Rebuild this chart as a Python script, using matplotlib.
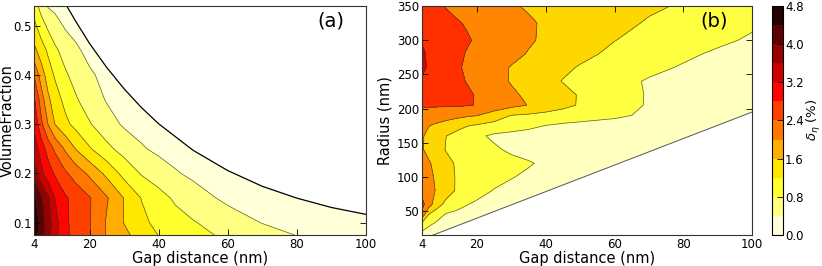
import numpy as np
import matplotlib.pyplot as plt

# panel (a): gap distance vs volume fraction
gap_a = [4, 6, 8, 10, 13, 16, 20, 25, 30, 35, 40, 45, 50, 60, 70, 80, 90, 100]
vf_a = [0.075, 0.1, 0.15, 0.2, 0.25, 0.3, 0.35, 0.4, 0.45, 0.5, 0.54]
delta_a = [
    [4.6, 4.19, 3.77, 3.36, 2.9, 2.66, 2.42, 1.97, 1.69, 1.44, 1.19, 1.07, 0.93, 0.72, 0.55, 0.39, 0.3, 0.24],
    [4.7, 4.24, 3.78, 3.36, 2.87, 2.66, 2.43, 1.96, 1.59, 1.29, 1.1, 0.96, 0.83, 0.59, 0.39, 0.3, 0.24, 0.19],
    [4.5, 4.06, 3.66, 3.19, 2.85, 2.66, 2.43, 2.04, 1.59, 1.19, 0.95, 0.73, 0.56, 0.32, 0.25, 0.2, 0.16, 0.13],
    [3.8, 3.31, 2.99, 2.74, 2.46, 2.23, 1.92, 1.5, 1.07, 0.77, 0.59, 0.43, 0.33, 0.25, 0.2, 0.16, 0.13, 0.1],
    [3.4, 3.02, 2.64, 2.33, 1.94, 1.59, 1.24, 0.9, 0.65, 0.44, 0.32, 0.26, 0.22, 0.18, 0.15, 0.12, 0.1, 0.08],
    [3.1, 2.49, 1.99, 1.59, 1.3, 1.08, 0.83, 0.56, 0.35, 0.27, 0.22, 0.19, 0.16, 0.13, 0.11, 0.09, 0.08, 0.07],
    [2.85, 2.2, 1.68, 1.39, 1.08, 0.84, 0.61, 0.37, 0.28, 0.22, 0.18, 0.15, 0.13, 0.1, 0.08, 0.07, 0.06, 0.05],
    [2.35, 1.8, 1.41, 1.15, 0.85, 0.67, 0.45, 0.3, 0.22, 0.18, 0.15, 0.13, 0.11, 0.09, 0.07, 0.06, 0.05, 0.04],
    [1.7, 1.4, 1.13, 0.87, 0.65, 0.46, 0.3, 0.22, 0.18, 0.15, 0.13, 0.11, 0.1, 0.08, 0.06, 0.05, 0.04, 0.04],
    [1.3, 0.97, 0.72, 0.56, 0.35, 0.28, 0.22, 0.18, 0.15, 0.13, 0.11, 0.1, 0.09, 0.07, 0.05, 0.04, 0.04, 0.03],
    [1.0, 0.64, 0.37, 0.3, 0.25, 0.22, 0.18, 0.15, 0.13, 0.11, 0.1, 0.09, 0.08, 0.06, 0.05, 0.04, 0.03, 0.03],
]
# upper limit of reachable volume fraction
limit_gap_a = [13.4, 16, 20, 25, 30, 35, 40, 50, 60, 70, 80, 90, 100]
limit_vf_a = [0.540, 0.509, 0.464, 0.415, 0.372, 0.334, 0.301, 0.247, 0.206, 0.174, 0.150, 0.131, 0.117]

# panel (b): gap distance vs radius
gap_b = [4, 6, 8, 11, 14, 17, 20, 25, 30, 35, 40, 45, 50, 60, 70, 80, 90, 100]
radius_b = [15, 30, 45, 60, 80, 100, 120, 140, 160, 175, 190, 205, 220, 240, 260, 280, 300, 325, 350]
delta_b = [
    [0.4, 0.3, 0.25, 0.2, 0.18, 0.15, 0.12, 0.1, 0.1, 0.1, 0.1, 0.1, 0.1, 0.1, 0.1, 0.1, 0.1, 0.1],
    [1.0, 0.67, 0.5, 0.4, 0.35, 0.3, 0.25, 0.2, 0.15, 0.1, 0.1, 0.1, 0.1, 0.1, 0.1, 0.1, 0.1, 0.1],
    [2.25, 1.2, 0.93, 0.55, 0.45, 0.4, 0.35, 0.3, 0.25, 0.2, 0.15, 0.1, 0.1, 0.1, 0.1, 0.1, 0.1, 0.1],
    [2.6, 2.09, 1.52, 1.06, 0.84, 0.63, 0.5, 0.4, 0.3, 0.25, 0.2, 0.15, 0.12, 0.1, 0.1, 0.1, 0.1, 0.1],
    [2.2, 1.99, 1.79, 1.45, 1.16, 0.99, 0.83, 0.57, 0.45, 0.35, 0.3, 0.25, 0.2, 0.15, 0.1, 0.1, 0.1, 0.1],
    [2.1, 1.93, 1.75, 1.43, 1.17, 1.07, 0.97, 0.8, 0.63, 0.5, 0.4, 0.33, 0.28, 0.2, 0.15, 0.1, 0.1, 0.1],
    [2.0, 1.86, 1.67, 1.33, 1.16, 1.08, 1.01, 0.89, 0.77, 0.65, 0.5, 0.4, 0.35, 0.28, 0.2, 0.15, 0.1, 0.1],
    [1.85, 1.66, 1.45, 1.18, 1.08, 0.97, 0.86, 0.69, 0.5, 0.4, 0.35, 0.3, 0.27, 0.22, 0.15, 0.1, 0.1, 0.1],
    [1.85, 1.69, 1.5, 1.21, 1.04, 0.88, 0.71, 0.5, 0.42, 0.38, 0.35, 0.33, 0.3, 0.25, 0.2, 0.15, 0.1, 0.1],
    [1.95, 1.82, 1.71, 1.55, 1.39, 1.23, 1.14, 1.0, 0.87, 0.73, 0.59, 0.5, 0.44, 0.38, 0.33, 0.28, 0.22, 0.18],
    [2.25, 2.2, 2.14, 2.06, 1.98, 1.89, 1.82, 1.52, 1.19, 1.12, 1.03, 0.95, 0.87, 0.7, 0.5, 0.4, 0.33, 0.25],
    [2.45, 2.46, 2.46, 2.46, 2.46, 2.44, 2.38, 2.18, 1.98, 1.78, 1.56, 1.35, 1.15, 0.85, 0.55, 0.42, 0.35, 0.28],
    [2.75, 2.68, 2.62, 2.55, 2.5, 2.45, 2.38, 2.14, 1.9, 1.69, 1.51, 1.34, 1.16, 0.88, 0.55, 0.45, 0.38, 0.3],
    [2.9, 2.75, 2.65, 2.55, 2.47, 2.39, 2.24, 2.0, 1.76, 1.56, 1.36, 1.18, 1.05, 0.78, 0.55, 0.45, 0.38, 0.3],
    [3.2, 2.9, 2.8, 2.64, 2.48, 2.33, 2.19, 1.98, 1.77, 1.61, 1.46, 1.3, 1.16, 0.94, 0.73, 0.55, 0.45, 0.38],
    [3.15, 2.88, 2.78, 2.64, 2.5, 2.38, 2.28, 2.11, 1.94, 1.77, 1.62, 1.48, 1.33, 1.09, 0.9, 0.7, 0.52, 0.4],
    [2.95, 2.8, 2.72, 2.62, 2.52, 2.44, 2.36, 2.2, 2.03, 1.86, 1.72, 1.6, 1.47, 1.21, 1.04, 0.87, 0.7, 0.53],
    [2.8, 2.7, 2.62, 2.52, 2.44, 2.37, 2.28, 2.15, 2.0, 1.86, 1.74, 1.64, 1.55, 1.35, 1.15, 1.0, 0.82, 0.68],
    [2.7, 2.6, 2.5, 2.38, 2.3, 2.22, 2.14, 2.0, 1.85, 1.75, 1.69, 1.62, 1.55, 1.41, 1.28, 1.15, 1.0, 0.88],
]
# lower limit of the radius
limit_gap_b = [4, 100]
limit_radius_b = [8.5, 195]

cbar_ticks = [0.0, 0.8, 1.6, 2.4, 3.2, 4.0, 4.8]

levels_a = np.linspace(0, 4.8, 13)
levels_b = np.linspace(0, 3.6, 7)

fig = plt.figure(figsize=(8.22, 2.66), dpi=100)
ax1 = fig.add_axes([0.0417, 0.1165, 0.4032, 0.861])
ax2 = fig.add_axes([0.513, 0.1165, 0.4022, 0.861])
cax = fig.add_axes([0.939, 0.1165, 0.0134, 0.861])

# (a)
cs = ax1.contourf(gap_a, vf_a, delta_a, levels=levels_a, cmap='hot_r', vmin=0, vmax=4.8)
ax1.contour(gap_a, vf_a, delta_a, levels=levels_a[1:-1], colors='#333333',
            linewidths=0.5, alpha=0.8)
ax1.fill_between(limit_gap_a, limit_vf_a, 1.0, color='white', zorder=2.2)
ax1.plot(limit_gap_a, limit_vf_a, color='black', lw=0.9, zorder=2.3)
ax1.set_xlim(4, 100)
ax1.set_ylim(0.075, 0.54)
ax1.set_xticks([4, 20, 40, 60, 80, 100])
ax1.set_yticks([0.1, 0.2, 0.3, 0.4, 0.5])
ax1.set_xlabel('Gap distance (nm)', fontsize=10.5, labelpad=0)
ax1.set_ylabel('VolumeFraction', fontsize=10.5, va='center')
ax1.yaxis.set_label_coords(-0.082, 0.5)
ax1.text(0.935, 0.975, '(a)', transform=ax1.transAxes, ha='right', va='top', fontsize=14)

# (b)
ax2.contourf(gap_b, radius_b, delta_b, levels=levels_b, cmap='hot_r', vmin=0, vmax=4.8)
ax2.contour(gap_b, radius_b, delta_b, levels=levels_b[1:-1], colors='#333333',
            linewidths=0.5, alpha=0.8)
ax2.fill_between(limit_gap_b, 0, limit_radius_b, color='white', zorder=2.2)
ax2.plot(limit_gap_b, limit_radius_b, color='#555555', lw=0.7, zorder=2.3)
ax2.set_xlim(4, 100)
ax2.set_ylim(15, 350)
ax2.set_xticks([4, 20, 40, 60, 80, 100])
ax2.set_yticks([50, 100, 150, 200, 250, 300, 350])
ax2.set_xlabel('Gap distance (nm)', fontsize=10.5, labelpad=0)
ax2.set_ylabel('Radius (nm)', fontsize=10.5, va='center')
ax2.yaxis.set_label_coords(-0.111, 0.5)
ax2.text(0.925, 0.975, '(b)', transform=ax2.transAxes, ha='right', va='top', fontsize=14)

for ax in (ax1, ax2):
    ax.tick_params(direction='in', top=True, right=True, length=4, width=0.6,
                   labelsize=8.5, pad=2)
    for sp in ax.spines.values():
        sp.set_linewidth(0.8)
        sp.set_color('#333333')

cb = fig.colorbar(cs, cax=cax, ticks=cbar_ticks)
cb.ax.set_yticklabels(['%.1f' % t for t in cbar_ticks])
cb.ax.tick_params(direction='in', length=4, width=0.6, labelsize=8.5, pad=1.5)
cb.outline.set_linewidth(0.8)
fig.text(813.5 / 822, 0.55, r'$\delta_\eta$ (%)', rotation=90, ha='center', va='center',
         fontsize=9.5)

fig.savefig('out.png', dpi=100)
